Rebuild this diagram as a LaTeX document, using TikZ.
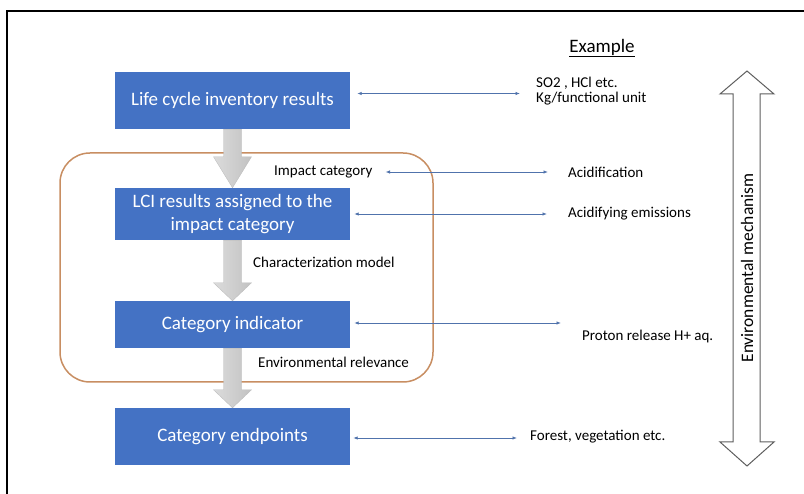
\documentclass[tikz,border=0pt]{standalone}
\usepackage{fontspec}
\setmainfont{Carlito}
\usetikzlibrary{arrows.meta,calc}
\definecolor{boxblue}{RGB}{68,114,196}
\definecolor{frameorange}{RGB}{200,142,98}
\definecolor{linkblue}{RGB}{80,115,172}
\definecolor{bigarrow}{RGB}{95,95,95}
\tikzset{
  stepbox/.style={fill=boxblue, draw=none, text=white, font=\fontsize{19}{23}\selectfont,
    align=center, minimum width=235pt, inner sep=0pt},
  lbl/.style={font=\fontsize{15}{15}\selectfont, anchor=west, inner sep=0pt, align=left},
  link/.style={draw=linkblue, line width=0.8pt,
    {Latex[length=4.5pt,width=3.5pt]}-{Latex[length=4.5pt,width=3.5pt]}},
  grayarrow/.style={left color=gray!28, right color=gray!48, draw=gray!55, line width=0.3pt},
}
\newcommand\garrowdraw[3]{%
  \path[grayarrow] ($(#1.south)+(-9,0)$) -- ($(#2.north)+(-9,-#3)$) -- ($(#2.north)+(-19,-#3)$)
    -- (#2.north) -- ($(#2.north)+(19,-#3)$) -- ($(#2.north)+(9,-#3)$) -- ($(#1.south)+(9,0)$) -- cycle;}
\begin{document}
\begin{tikzpicture}[x=1pt,y=-1pt]
\useasboundingbox (0,0) rectangle (804,494);
\fill[white] (0,0) rectangle (804,494);
% outer frame
\draw[black, line width=1.3pt] (7,494) -- (7,11) -- (804,11);
% group frame
\node[draw=frameorange, line width=1.5pt, rounded corners=30pt, minimum width=373pt,
  minimum height=229pt, inner sep=0pt] (grp) at (246.5,267.5) {};
% boxes
\node[stepbox, minimum height=57pt] (b1) at (232.5,100.5) {Life cycle inventory results};
\node[stepbox, minimum height=52pt] (b2) at (232.5,214) {LCI results assigned to the\\impact category};
\node[stepbox, minimum height=47pt] (b3) at (232.5,324.5) {Category indicator};
\node[stepbox, minimum height=57pt] (b4) at (232.5,436.5) {Category endpoints};
% gray block arrows
\garrowdraw{b1}{b2}{31}
\garrowdraw{b2}{b3}{18}
\garrowdraw{b3}{b4}{18}
% labels
\node[font=\fontsize{19}{22}\selectfont, inner sep=0pt] (ex) at (602,48) {\underline{Example}};
\node[lbl] (so2) at (536,91) {SO2 , HCl etc.\\Kg/functional unit};
\node[lbl] (ic) at (274,172) {Impact category};
\node[lbl] (acid) at (568,172) {Acidification};
\node[lbl] (acem) at (568,214) {Acidifying emissions};
\node[lbl] (cm) at (253,262) {Characterization model};
\node[lbl] (prot) at (582,337) {Proton release H+ aq.};
\node[lbl] (er) at (258,362) {Environmental relevance};
\node[lbl] (forest) at (530,437) {Forest, vegetation etc.};
% link end points
\coordinate (l1a) at ([xshift=7pt,yshift=7pt]b1.east);
\coordinate (l1b) at ([xshift=-16pt]so2.west |- l1a);
\coordinate (l4a) at ([xshift=4pt,yshift=1.5pt]b3.east);
\coordinate (l4b) at ([xshift=-21pt]prot.west |- l4a);
\coordinate (l5a) at ([xshift=3pt,yshift=-1.5pt]b4.east);
\coordinate (l5b) at ([xshift=-13pt]forest.west |- l5a);
% links
\draw[link] (l1a) -- (l1b);
\draw[link] ([xshift=13pt]ic.east) -- ([xshift=-20pt]acid.west);
\draw[link] ([xshift=4pt]b2.east) -- ([xshift=-21pt]acem.west);
\draw[link] (l4a) -- (l4b);
\draw[link] (l5a) -- (l5b);
% environmental mechanism double arrow
\draw[bigarrow, line width=1pt, fill=white, line join=miter]
  (747,71) -- (774,94) -- (760,94) -- (760,442) -- (774,442) -- (747,466)
  -- (720,442) -- (733,442) -- (733,94) -- (720,94) -- cycle;
\node[rotate=90, font=\fontsize{17.5}{20}\selectfont, inner sep=0pt] (em) at (747,268) {Environmental mechanism};
\end{tikzpicture}
\end{document}
